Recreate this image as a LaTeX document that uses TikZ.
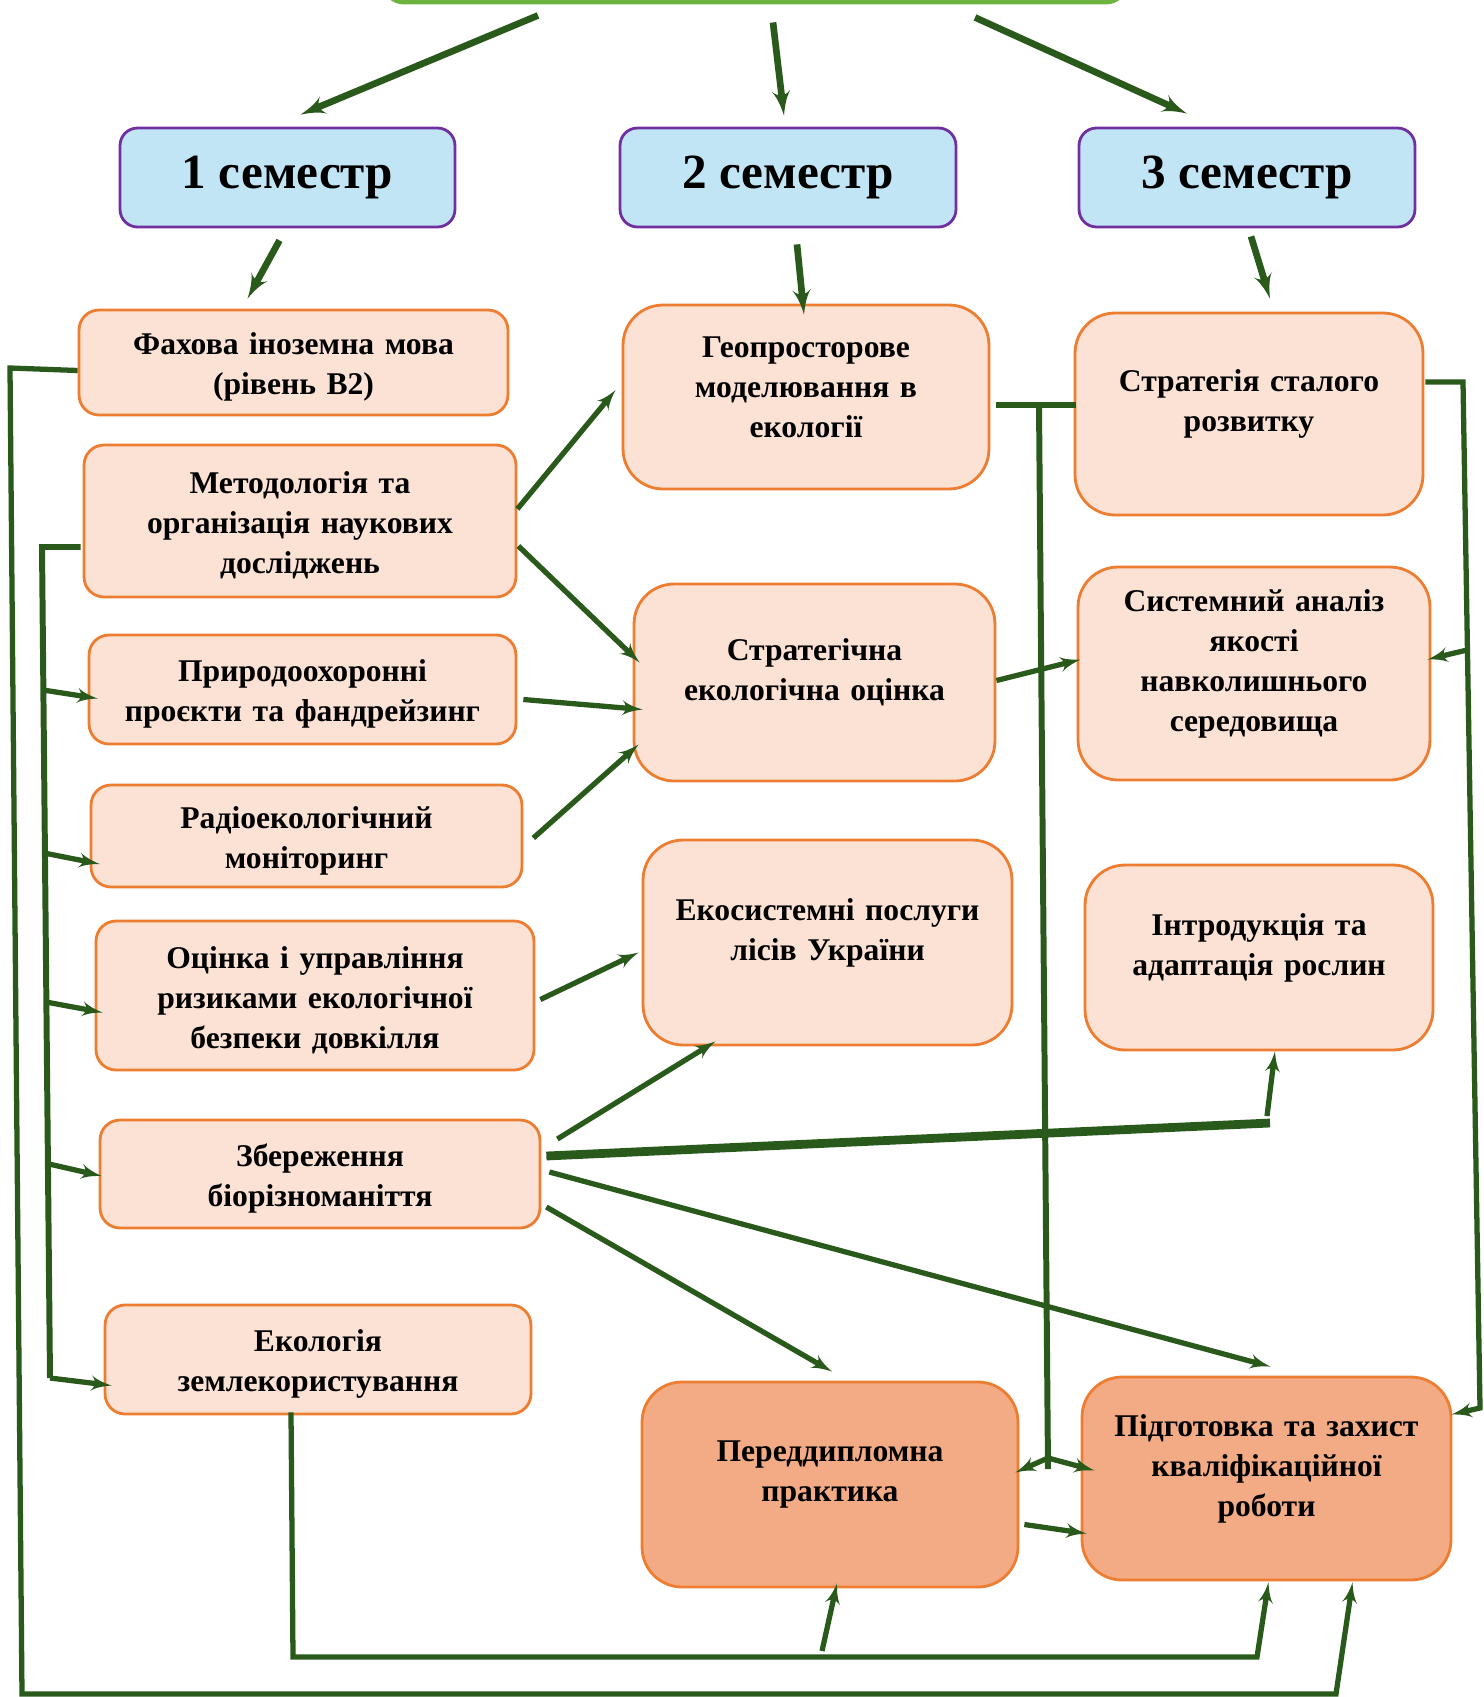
\documentclass[tikz,border=0pt]{standalone}
\usepackage{fontspec}
\setmainfont{Liberation Serif}
\usepackage{tikz}
\usetikzlibrary{shapes,arrows}
\definecolor{leaf}{HTML}{2A5A1B}
\definecolor{grass}{HTML}{6DB33F}
\definecolor{peach}{HTML}{FBE2D5}
\definecolor{salmon}{HTML}{F2AB84}
\definecolor{rim}{HTML}{ED7D31}
\definecolor{sky}{HTML}{C2E5F5}
\definecolor{plum}{HTML}{7030A0}

\begin{document}
\begin{tikzpicture}[x=0.02cm,y=-0.02cm,
prog/.style={rectangle,draw=grass,line width=2.8pt,rounded corners=0.4cm},
sem/.style={rectangle,draw=plum,line width=1.6pt,fill=sky,rounded corners=0.35cm,inner sep=0pt,font=\bfseries\fontsize{28}{33}\selectfont},
block/.style={rectangle,draw=rim,line width=1.6pt,fill=peach,text width=7.4cm,text centered,rounded corners=0.4cm,inner sep=0pt,font=\bfseries\fontsize{18}{22.8}\selectfont,execute at end node={\endgraf\vspace*{-0.18cm}}},
big/.style={block,text width=6.8cm,rounded corners=0.8cm,execute at end node={\vspace*{0.58cm}}},
final/.style={big,fill=salmon},
line/.style={draw=leaf,line width=3pt,-latex'},
wline/.style={line,line width=3.8pt},
wire/.style={draw=leaf,line width=3.4pt}]

\useasboundingbox (0,0) rectangle (1484,1697);

\node [prog, minimum width=14.84cm, minimum height=1.64cm] (prog) at (755,-39) {};

\node [sem, minimum width=6.7cm, minimum height=1.98cm] (s1) at (287.5,177.5) {1 семестр};
\node [sem, minimum width=6.72cm, minimum height=1.98cm] (s2) at (788,177.5) {2 семестр};
\node [sem, minimum width=6.72cm, minimum height=1.98cm] (s3) at (1247,177.5) {3 семестр};

\node [block, minimum width=8.58cm, minimum height=2.1cm] (fah) at (293.5,362.5) {Фахова іноземна мова\\(рівень B2)};
\node [block, minimum width=8.64cm, minimum height=3.04cm] (met) at (300,521) {Методологія та\\організація наукових\\досліджень};
\node [block, minimum width=8.54cm, minimum height=2.18cm] (pryr) at (302.5,689.5) {Природоохоронні\\проєкти та фандрейзинг};
\node [block, minimum width=8.62cm, minimum height=2.04cm] (rad) at (306.5,836) {Радіоекологічний\\моніторинг};
\node [block, minimum width=8.76cm, minimum height=2.98cm] (otsin) at (315,995.5) {Оцінка і управління\\ризиками екологічної\\безпеки довкілля};
\node [block, minimum width=8.8cm, minimum height=2.16cm] (zber) at (320,1174) {Збереження\\біорізноманіття};
\node [block, minimum width=8.52cm, minimum height=2.18cm] (ekol) at (318,1359.5) {Екологія\\землекористування};

\node [big, minimum width=7.32cm, minimum height=3.68cm] (geo) at (806,397) {Геопросторове\\моделювання в\\екології};
\node [big, minimum width=7.22cm, minimum height=3.94cm] (seo) at (814.5,682.5) {Стратегічна\\екологічна оцінка};
\node [big, minimum width=7.38cm, minimum height=4.1cm] (eko) at (827.5,942.5) {Екосистемні послуги\\лісів України};
\node [final, minimum width=7.52cm, minimum height=4.1cm] (pered) at (830,1484.5) {Переддипломна\\практика};

\node [big, minimum width=6.96cm, minimum height=4.04cm] (stal) at (1249,414) {Стратегія сталого\\розвитку};
\node [big, minimum width=7.04cm, minimum height=4.26cm] (syst) at (1254,673.5) {Системний аналіз\\якості\\навколишнього\\середовища};
\node [big, minimum width=6.96cm, minimum height=3.7cm] (intr) at (1259,957.5) {Інтродукція та\\адаптація рослин};
\node [final, minimum width=7.38cm, minimum height=4.06cm] (pidg) at (1266.5,1478.5) {Підготовка та захист\\кваліфікаційної\\роботи};

% bends of the long wires
\coordinate (o1) at (10,368);
\coordinate (o2) at (22,1694);
\coordinate (o3) at (1336,1694);
\coordinate (m1) at (42,547);
\coordinate (m2) at (50,1378);
\coordinate (mb1) at (43,690);
\coordinate (mb2) at (44,853);
\coordinate (mb3) at (46,1002);
\coordinate (mb4) at (49,1164);
\coordinate (e1) at (293,1657);
\coordinate (e2) at (1257,1657);
\coordinate (e3) at (822,1651);
\coordinate (g1) at (1039,405);
\coordinate (g2) at (1048,1458);
\coordinate (g3) at (1048,1469);
\coordinate (r1) at (1463,382);
\coordinate (r2) at (1480,1408);
\coordinate (r3) at (1467,650);
\coordinate (j1) at (1270,1123);
\coordinate (j2) at (1267,1116);

\path [wline] ([shift={(-217,11)}]prog.south) -- ([shift={(13,-12)}]s1.north);
\path [wline] ([shift={(18,18)}]prog.south) -- ([shift={(-4,-11)}]s2.north);
\path [wline] ([shift={(220,13)}]prog.south) -- ([shift={(-60,-13)}]s3.north);

\path [wline] ([shift={(-8,12)}]s1.south) -- ([shift={(-46,-10)}]fah.north);
\path [wline] ([shift={(9,16)}]s2.south) -- ([shift={(-2,11)}]geo.north);
\path [wline] ([shift={(4,8)}]s3.south) -- ([shift={(21,-13)}]stal.north);

\path [line] ([shift={(0,8)}]fah.west) -- (o1) -- (o2) -- (o3) -- ([shift={(86,1)}]pidg.south);

\draw [wire] ([shift={(-2,26)}]met.west) -- (m1) -- (m2);
\path [line] (mb1) -- ([shift={(10,9)}]pryr.west);
\path [line] (mb2) -- ([shift={(10,28)}]rad.west);
\path [line] (mb3) -- ([shift={(8,17)}]otsin.west);
\path [line] (mb4) -- ([shift={(3,2)}]zber.west);
\path [line] (m2) -- ([shift={(8,26)}]ekol.west);

\path [line] ([shift={(0,-12)}]met.east) -- ([shift={(-6,-7)}]geo.west);
\path [line] ([shift={(1,25)}]met.east) -- ([shift={(7,-20)}]seo.west);
\path [line] ([shift={(6,10)}]pryr.east) -- ([shift={(10,27)}]seo.west);
\path [line] ([shift={(10,2)}]rad.east) -- ([shift={(6,62)}]seo.west);
\path [line] ([shift={(5,4)}]otsin.east) -- ([shift={(-3,10)}]eko.west);

\path [line] ([shift={(16,-35)}]zber.east) -- ([shift={(-112,-5)}]eko.south);
\draw [wire, line width=5pt] ([shift={(5,-18)}]zber.east) -- (j1);
\path [line] (j2) -- ([shift={(16,0)}]intr.south);
\path [line] ([shift={(8,-2)}]zber.east) -- ([shift={(4,-9)}]pidg.north);
\path [line] ([shift={(5,33)}]zber.east) -- ([shift={(2,-9)}]pered.north);

\draw [wire] ([shift={(6,8)}]geo.east) -- ([shift={(2,-9)}]stal.west);
\draw [wire] (g1) -- (g3);
\path [line] (g2) -- ([shift={(-4,-12)}]pered.east);
\path [line] (g2) -- ([shift={(14,-8)}]pidg.west);

\path [line] ([shift={(1,-32)}]stal.east) -- (r1) -- (r2) -- ([shift={(-1,-64)}]pidg.east);
\path [line] (r3) -- ([shift={(-4,-14)}]syst.east);

\path [line] ([shift={(0,-2)}]seo.east) -- ([shift={(4,-14)}]syst.west);
\path [line] ([shift={(5,40)}]pered.east) -- ([shift={(6,55)}]pidg.west);

\path [line] ([shift={(-27,-3)}]ekol.south) -- (e1) -- (e2) -- ([shift={(2,1)}]pidg.south);
\path [line] (e3) -- ([shift={(7,-5)}]pered.south);
\end{tikzpicture}
\end{document}
